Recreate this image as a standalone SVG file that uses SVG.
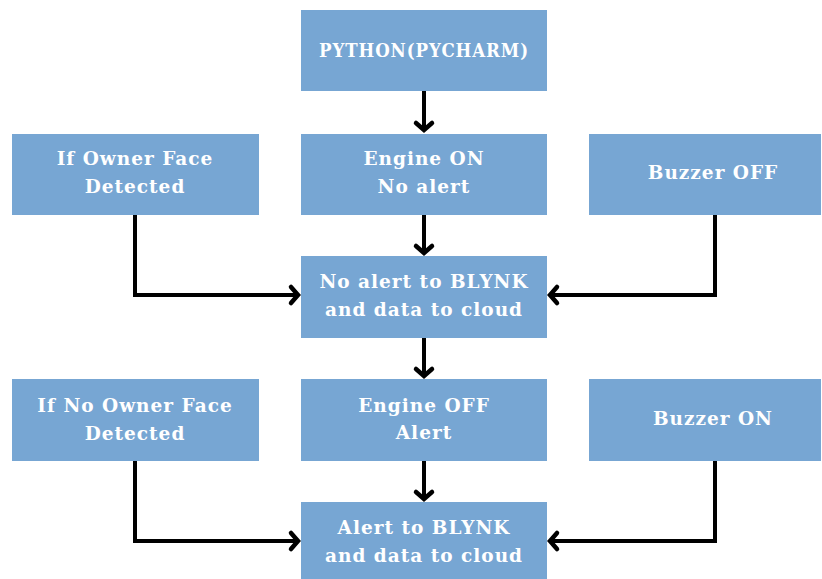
<svg xmlns="http://www.w3.org/2000/svg" width="822" height="579" viewBox="0 0 822 579">
<style>
.box{fill:#77a6d3;}
.t{font-family:"DejaVu Serif","Liberation Serif",serif;font-weight:bold;font-size:18.5px;fill:#ffffff;text-anchor:middle;letter-spacing:1px;}
.c{fill:none;stroke:#000;stroke-width:4;}
</style>
<defs>
<marker id="ah" markerUnits="userSpaceOnUse" markerWidth="24" markerHeight="24" viewBox="-12 -12 24 24" refX="0" refY="0" orient="auto">
<path d="M-8,-8 L-1,0 L-8,8" fill="none" stroke="#000" stroke-width="4.5" stroke-linecap="round" stroke-linejoin="miter"/>
</marker>
</defs>
<rect width="822" height="579" fill="#ffffff"/>
<g id="python"><rect class="box" x="301" y="10" width="246" height="81"/><text class="t" x="424" y="57" textLength="210" lengthAdjust="spacingAndGlyphs">PYTHON(PYCHARM)</text></g>
<g id="owner"><rect class="box" x="12" y="134" width="247" height="81"/><text class="t" x="135" y="165">If Owner Face</text><text class="t" x="135" y="193">Detected</text></g>
<g id="engineon"><rect class="box" x="301" y="134" width="246" height="81"/><text class="t" x="424" y="165">Engine ON</text><text class="t" x="424" y="193">No alert</text></g>
<g id="buzzeroff"><rect class="box" x="589" y="134" width="232" height="81"/><text class="t" x="713" y="179">Buzzer OFF</text></g>
<g id="noalert"><rect class="box" x="301" y="256" width="246" height="82"/><text class="t" x="424" y="288">No alert to BLYNK</text><text class="t" x="424" y="316">and data to cloud</text></g>
<g id="noowner"><rect class="box" x="12" y="379" width="247" height="82"/><text class="t" x="135" y="412">If No Owner Face</text><text class="t" x="135" y="440">Detected</text></g>
<g id="engineoff"><rect class="box" x="301" y="379" width="246" height="82"/><text class="t" x="424" y="412">Engine OFF</text><text class="t" x="424" y="439">Alert</text></g>
<g id="buzzeron"><rect class="box" x="589" y="379" width="232" height="82"/><text class="t" x="713" y="425">Buzzer ON</text></g>
<g id="alert"><rect class="box" x="301" y="502" width="246" height="77"/><text class="t" x="424" y="534">Alert to BLYNK</text><text class="t" x="424" y="562">and data to cloud</text></g>
<g id="connectors">
<path class="c" d="M424,91 V131" marker-end="url(#ah)"/>
<path class="c" d="M424,215 V254" marker-end="url(#ah)"/>
<path class="c" d="M135,215 V295 H299" marker-end="url(#ah)"/>
<path class="c" d="M715,215 V295 H549" marker-end="url(#ah)"/>
<path class="c" d="M424,338 V377" marker-end="url(#ah)"/>
<path class="c" d="M424,461 V500" marker-end="url(#ah)"/>
<path class="c" d="M135,461 V541 H299" marker-end="url(#ah)"/>
<path class="c" d="M715,461 V541 H549" marker-end="url(#ah)"/>
</g>
</svg>
